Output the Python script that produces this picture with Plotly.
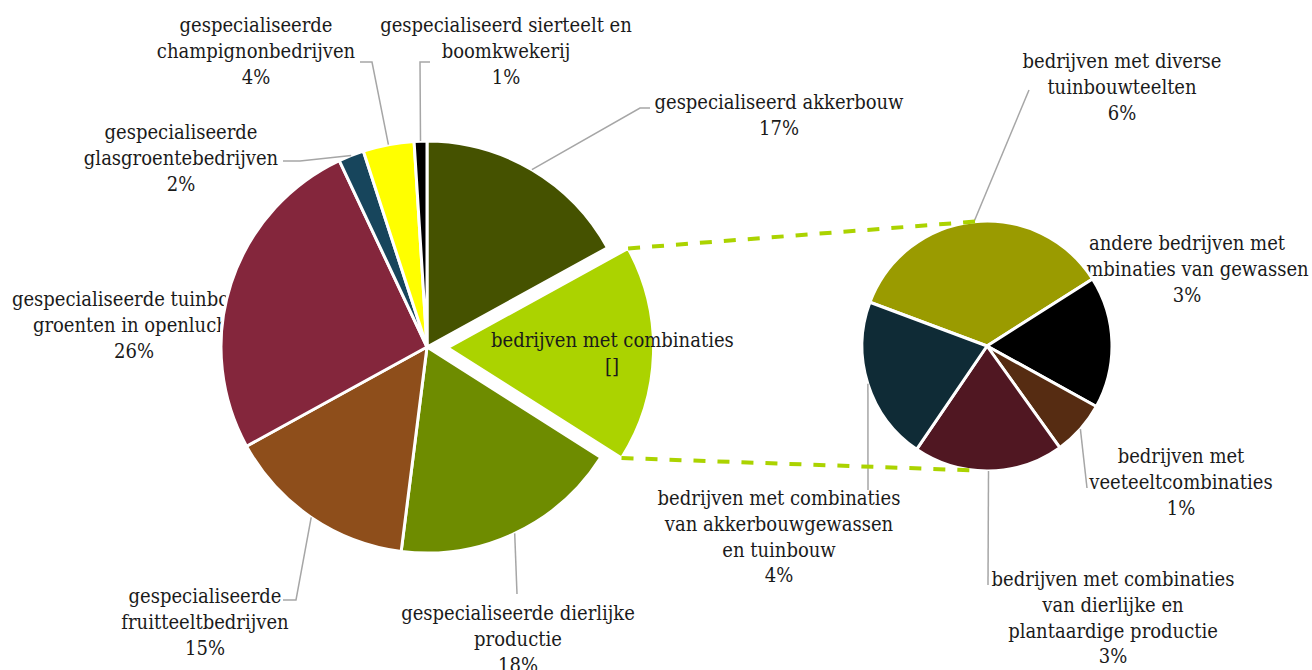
import math
import plotly.graph_objects as go

W, H = 1312, 670

# ---------------- data ----------------
main_labels = [
    "gespecialiseerd akkerbouw",
    "bedrijven met combinaties",
    "gespecialiseerde dierlijke\nproductie",
    "gespecialiseerde\nfruitteeltbedrijven",
    "gespecialiseerde tuinbouw\ngroenten in openlucht",
    "gespecialiseerde\nglasgroentebedrijven",
    "gespecialiseerde\nchampignonbedrijven",
    "gespecialiseerd sierteelt en\nboomkwekerij",
]
main_colors = ["#455200", "#ABD300", "#6E8C00", "#8E4E1B", "#84263C",
               "#17455C", "#FFFF00", "#000000"]

sec_labels = [
    "bedrijven met diverse\ntuinbouwteelten",
    "andere bedrijven met\ncombinaties van gewassen",
    "bedrijven met\nveeteeltcombinaties",
    "bedrijven met combinaties\nvan dierlijke en\nplantaardige productie",
    "bedrijven met combinaties\nvan akkerbouwgewassen\nen tuinbouw",
]
sec_values = [6.0, 2.9, 1.2, 3.3, 3.6]
sec_colors = ["#9A9B00", "#000000", "#562C12", "#501722", "#0F2B36"]

comb_value = sum(sec_values)
main_values = [17, comb_value, 18, 15, 26, 2, 4, 1]
COMB = 1

# ---------------- layout constants ----------------
FONT = "DejaVu Serif Condensed, DejaVu Serif, serif"
FSIZE = 20
TXT = "#1a1a1a"
LH = 25.8
LEADER = "#A6A6A6"
DY = 3

M_CX, M_CY, M_R, M_PULL = 427, 347, 206, 0.1
S_CX, S_CY, S_R = 987, 346, 125
S_ROT = -69.5

total = sum(main_values)


def pct(v):
    return f"{round(v / total * 100)}%"


def domain_for(cx, cy, r, pull=0.0):
    half = r * (1 + pull)
    return dict(x=[(cx - half) / W, (cx + half) / W],
                y=[1 - (cy + half) / H, 1 - (cy - half) / H])


def slice_angles(values, rot):
    tot = sum(values)
    out, a = [], rot
    for v in values:
        span = v / tot * 360
        out.append((a, a + span))
        a += span
    return out


def pt(cx, cy, r, ang):
    t = math.radians(ang)
    return cx + r * math.sin(t), cy - r * math.cos(t)


m_ang = slice_angles(main_values, 0)
s_ang = slice_angles(sec_values, S_ROT)

fig = go.Figure()

# ---------------- labels (drawn below pies) ----------------
main_pos = {0: (779, 101), 2: (518, 612), 3: (205, 595), 4: (134, 298),
            5: (181, 131), 6: (256, 24), 7: (506, 24)}
sec_pos = {0: (1122, 60), 1: (1187, 242), 2: (1181, 455), 3: (1113, 578),
           4: (779, 497)}

xs, ys, ts = [], [], []


def add_label(text, value, pos):
    lines = text.split("\n") + [pct(value)]
    for i, ln in enumerate(lines):
        xs.append(pos[0])
        ys.append(pos[1] + DY + i * LH)
        ts.append(ln)


for i, p in main_pos.items():
    add_label(main_labels[i], main_values[i], p)
for i, p in sec_pos.items():
    add_label(sec_labels[i], sec_values[i], p)

fig.add_trace(go.Scatter(x=xs, y=ys, text=ts, mode="text",
                         textposition="middle center",
                         textfont=dict(family=FONT, size=FSIZE, color=TXT),
                         hoverinfo="skip", showlegend=False))

# ---------------- pies ----------------
fig.add_trace(go.Pie(
    labels=[l.replace("\n", " ") for l in main_labels], values=main_values,
    sort=False, direction="clockwise", rotation=0,
    pull=[M_PULL if i == COMB else 0 for i in range(len(main_values))],
    marker=dict(colors=main_colors, line=dict(color="white", width=3)),
    textinfo="none", hoverinfo="label+percent",
    domain=domain_for(M_CX, M_CY, M_R, M_PULL), showlegend=False))

fig.add_trace(go.Pie(
    labels=[l.replace("\n", " ") for l in sec_labels], values=sec_values,
    sort=False, direction="clockwise", rotation=S_ROT,
    marker=dict(colors=sec_colors, line=dict(color="white", width=3)),
    textinfo="none", hoverinfo="label",
    domain=domain_for(S_CX, S_CY, S_R), showlegend=False))

# ---------------- leader lines ----------------
shapes = []


def leader(p0, *pts):
    d = f"M {p0[0]:.1f},{p0[1]:.1f}" + "".join(f" L {x:.1f},{y:.1f}" for x, y in pts)
    shapes.append(dict(type="path", path=d, xref="x", yref="y",
                       line=dict(color=LEADER, width=1.5), layer="above"))


def mid_main(i):
    a0, a1 = m_ang[i]
    return pt(M_CX, M_CY, M_R, (a0 + a1) / 2)


def mid_sec(i):
    a0, a1 = s_ang[i]
    return pt(S_CX, S_CY, S_R, (a0 + a1) / 2)


leader(mid_main(0), (640, 108), (650, 108))
leader(mid_main(6), (372, 62), (360, 62))
leader(mid_main(7), (420, 62), (430, 62))
leader(mid_main(5), (300, 161), (283, 161))
leader(mid_main(3), (296, 600), (283, 600))
leader(mid_main(2), (517, 594))
leader(mid_sec(0), (1029, 90))
leader(mid_sec(2), (1087, 488))
leader(mid_sec(4), (868, 490))
leader(mid_sec(3), (988, 585))

# ---------------- dashed connectors ----------------
ca0, ca1 = m_ang[COMB]
cmid = (ca0 + ca1) / 2
ox, oy = pt(0, 0, M_R * M_PULL, cmid)
top0 = pt(M_CX + ox, M_CY + oy, M_R, ca0)
bot0 = pt(M_CX + ox, M_CY + oy, M_R, ca1)
top1 = pt(S_CX, S_CY, S_R, -5.5)
bot1 = pt(S_CX, S_CY, S_R, 185.5)
for a, b in [(top0, top1), (bot0, bot1)]:
    shapes.append(dict(type="line", x0=a[0], y0=a[1], x1=b[0], y1=b[1],
                       xref="x", yref="y", layer="above",
                       line=dict(color="#ABD300", width=4, dash="dash")))

# ---------------- label on the exploded slice ----------------
annotations = []
for j, ln in enumerate([main_labels[COMB], "[]"]):
    annotations.append(dict(x=612, y=340 + j * LH, xref="x", yref="y",
                            text=ln, showarrow=False,
                            font=dict(family=FONT, size=FSIZE, color=TXT)))

fig.update_layout(
    width=W, height=H, margin=dict(l=0, r=0, t=0, b=0),
    paper_bgcolor="white", plot_bgcolor="white",
    showlegend=False, shapes=shapes, annotations=annotations,
    xaxis=dict(range=[0, W], visible=False, fixedrange=True),
    yaxis=dict(range=[H, 0], visible=False, fixedrange=True),
)

fig.write_html("out.html", config={"displayModeBar": False},
               post_script="document.body.style.margin='0';document.body.style.overflow='hidden';")
